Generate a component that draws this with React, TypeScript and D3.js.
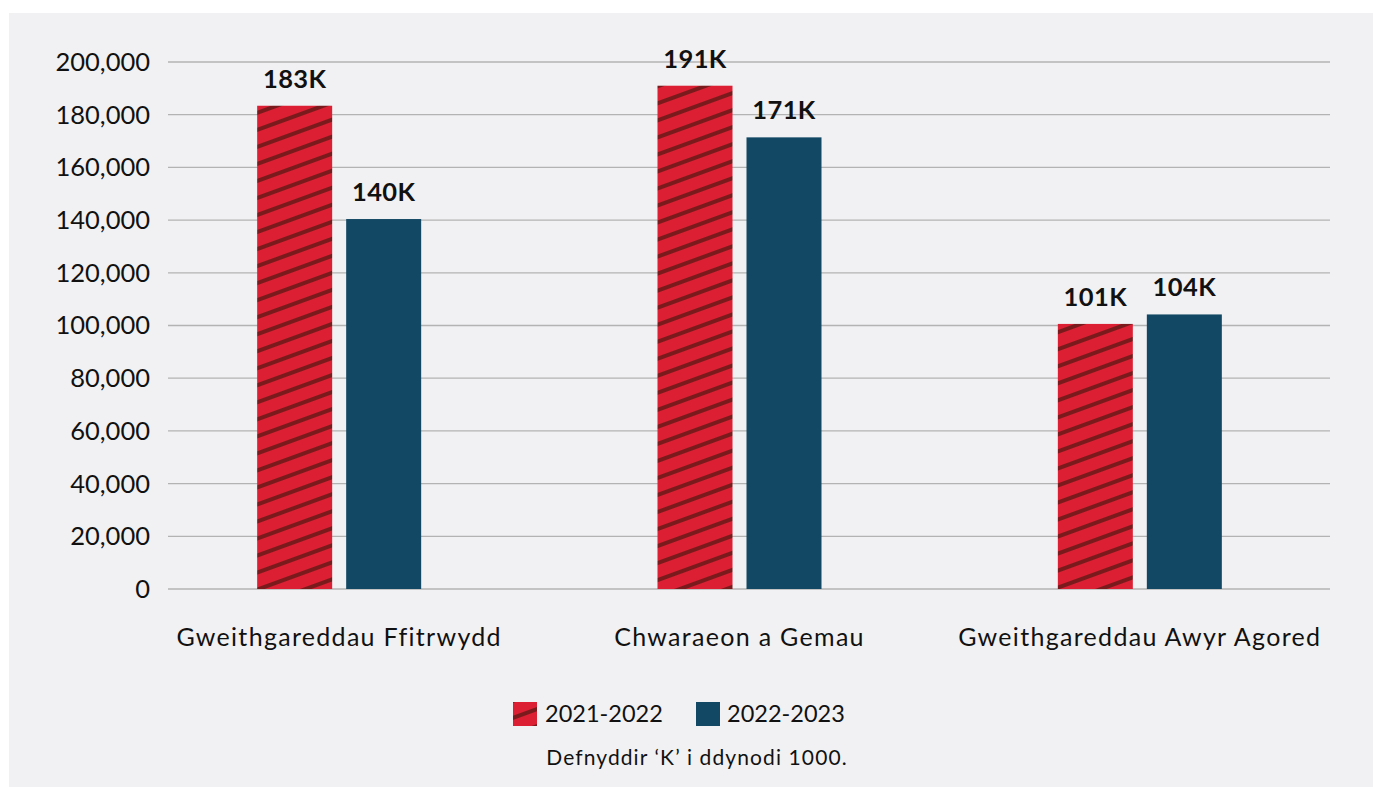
import React from "react";
import * as d3 from "d3";

const categories = ["Gweithgareddau Ffitrwydd", "Chwaraeon a Gemau", "Gweithgareddau Awyr Agored"];
const seriesNames = ["2021-2022", "2022-2023"];
const values2021 = [183400, 191000, 100600];
const values2022 = [140400, 171400, 104200];
const yTicks = [0, 20000, 40000, 60000, 80000, 100000, 120000, 140000, 160000, 180000, 200000];
const note = "Defnyddir \u2018K\u2019 i ddynodi 1000.";

const W = 1373;
const H = 787;
const FONT = "Lato, 'Open Sans', sans-serif";
const RED = "#dc1f33";
const STRIPE = "#7a1a1c";
const BLUE = "#124863";

export default function App() {
  const x0 = d3.scaleBand<string>().domain(categories).range([139, 1340]);
  const y = d3.scaleLinear().domain([0, 200000]).range([589, 62]);
  const barW = 75;
  const gap = 14;
  const fmtTick = d3.format(",");
  const fmtLabel = (v: number) => `${Math.round(v / 1000)}K`;
  const series = [values2021, values2022];

  return (
    <svg width={W} height={H} style={{ position: "absolute", left: 0, top: 0 }} fontFamily={FONT}>
      <defs>
        <pattern id="hatch" patternUnits="userSpaceOnUse" width="16" height="16" patternTransform="rotate(-20)">
          <rect width="16" height="16" fill={RED} />
          <rect y="0" width="16" height="4" fill={STRIPE} />
        </pattern>
      </defs>
      <rect x={0} y={0} width={W} height={H} fill="#ffffff" />
      <rect x={9} y={13} width={W - 9} height={H - 13} fill="#f1f1f3" />
      {yTicks.map((t) => (
        <g key={t}>
          <line x1={168} x2={1330} y1={y(t)} y2={y(t)} stroke="#b3b3b3" strokeWidth={1.3} />
          <text x={150} y={y(t)} dy="0.35em" textAnchor="end" fontSize={25.5} fill="#111">
            {fmtTick(t)}
          </text>
        </g>
      ))}
      {categories.map((c, i) => {
        const cx = (x0(c) as number) + x0.bandwidth() / 2;
        return (
          <g key={c}>
            {series.map((vals, s) => {
              const bx = cx - gap / 2 - barW + s * (barW + gap);
              const v = vals[i];
              return (
                <g key={s}>
                  <rect
                    x={bx}
                    y={y(v)}
                    width={barW}
                    height={y(0) - y(v)}
                    fill={s === 0 ? "url(#hatch)" : BLUE}
                  />
                  <text
                    x={bx + barW / 2}
                    y={y(v) - 18}
                    textAnchor="middle"
                    fontSize={25.5}
                    letterSpacing={0.4}
                    fontWeight="bold"
                    fill="#111"
                  >
                    {fmtLabel(v)}
                  </text>
                </g>
              );
            })}
            <text x={cx} y={646} textAnchor="middle" fontSize={25} letterSpacing={1.3} fill="#111">
              {c}
            </text>
          </g>
        );
      })}
      <g>
        <rect x={513} y={702} width={24} height={24} fill="url(#hatch)" />
        <text x={545} y={714} dy="0.35em" fontSize={23.5} fill="#111">
          {seriesNames[0]}
        </text>
        <rect x={696} y={702} width={24} height={24} fill={BLUE} />
        <text x={727} y={714} dy="0.35em" fontSize={23.5} fill="#111">
          {seriesNames[1]}
        </text>
      </g>
      <text x={697} y={765} textAnchor="middle" fontSize={21} letterSpacing={1.1} fill="#111">
        {note}
      </text>
    </svg>
  );
}
